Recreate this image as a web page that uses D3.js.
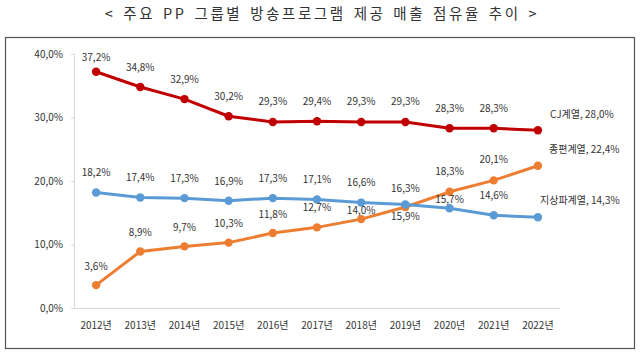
<!DOCTYPE html>
<html><head><meta charset="utf-8">
<script src="https://cdn.jsdelivr.net/npm/d3@7"></script>
<style>body{margin:0;background:#fff;} svg{display:block;}</style>
</head><body>
<svg id="c" width="640" height="357"></svg>
<script>
const years = ["2012년","2013년","2014년","2015년","2016년","2017년","2018년","2019년","2020년","2021년","2022년"];
const cj = [37.2,34.8,32.9,30.2,29.3,29.4,29.3,29.3,28.3,28.3,28.0];
const jong = [3.6,8.9,9.7,10.3,11.8,12.7,14.0,15.9,18.3,20.1,22.4];
const ji = [18.2,17.4,17.3,16.9,17.3,17.1,16.6,16.3,15.7,14.6,14.3];
const yTicks = [0,10,20,30,40];
const seriesNames = ["CJ계열","종편계열","지상파계열"];
const colors = ["#C00000","#ED7D31","#5B9BD5"];
const title = "< 주요 PP 그룹별 방송프로그램 제공 매출 점유율 추이 >";
// label offsets (px, label centre above point; negative = below)
const cjOff   = [14,20,20,20,20,20,20,20,20,20,20];
const jongOff = [19,19,19,19,19,20,9,-9,20,21,20];
const jiOff   = [20,20,20,19,20,20,20,16,9,20,20];

const fmt = v => v.toFixed(1).replace(".", ",") + "%";
const font = "'Noto Sans CJK KR', 'Noto Sans', sans-serif";
const svg = d3.select("#c");

svg.append("text").attr("x",322).attr("y",19).attr("text-anchor","middle")
  .attr("font-family",font).attr("font-size",14.5).attr("fill","#333")
  .attr("letter-spacing","2.6").attr("word-spacing","2").text(title);

svg.append("rect").attr("x",5.5).attr("y",37.5).attr("width",629).attr("height",311)
  .attr("fill","none").attr("stroke","#555").attr("stroke-width",1.2);

const x = d3.scaleBand().domain(years).range([74,560]);
const y = d3.scaleLinear().domain([0,40]).range([308,54]);

const yAxis = svg.append("g").attr("transform","translate(74,0)")
  .call(d3.axisLeft(y).tickValues(yTicks).tickSize(3).tickPadding(8).tickFormat(fmt));
yAxis.select(".domain").attr("stroke","#d9d9d9");
yAxis.selectAll(".tick line").attr("stroke","#d9d9d9");
yAxis.selectAll("text").attr("font-family",font).attr("font-size",10).attr("fill","#333");

const xAxis = svg.append("g").attr("transform","translate(0,308)")
  .call(d3.axisBottom(x).tickSize(0).tickPadding(14));
xAxis.select(".domain").attr("stroke","#d9d9d9");
xAxis.selectAll("text").attr("font-family",font).attr("font-size",10).attr("fill","#333");

const cx = d => x(d) + x.bandwidth()/2;
const data = [cj, jong, ji];
const offs = [cjOff, jongOff, jiOff];
const line = d3.line().x((d,i)=>cx(years[i])).y(d=>y(d));

data.forEach((vals,si)=>{
  svg.append("path").datum(vals).attr("d",line).attr("fill","none")
    .attr("stroke",colors[si]).attr("stroke-width",3).attr("stroke-linejoin","round");
  svg.selectAll(null).data(vals).enter().append("circle")
    .attr("cx",(d,i)=>cx(years[i])).attr("cy",d=>y(d)).attr("r",4.2).attr("fill",colors[si]);
});

data.forEach((vals,si)=>{
  vals.forEach((v,i)=>{
    if (i===vals.length-1) return;
    svg.append("text").attr("x",cx(years[i])).attr("y", y(v)-offs[si][i]+3.5)
      .attr("text-anchor","middle").attr("font-family",font).attr("font-size",10)
      .attr("fill","#333").text(fmt(v));
  });
});

const endLbl = [[cj, 550, -16], [jong, 549, -16], [ji, 540, -17]];
endLbl.forEach((e,si)=>{
  const v = e[0][e[0].length-1];
  svg.append("text").attr("x",e[1]).attr("y",y(v)+e[2]+3.5).attr("font-family",font)
    .attr("font-size",10).attr("fill","#333").text(seriesNames[si] + ", " + fmt(v));
});
</script>
</body></html>
